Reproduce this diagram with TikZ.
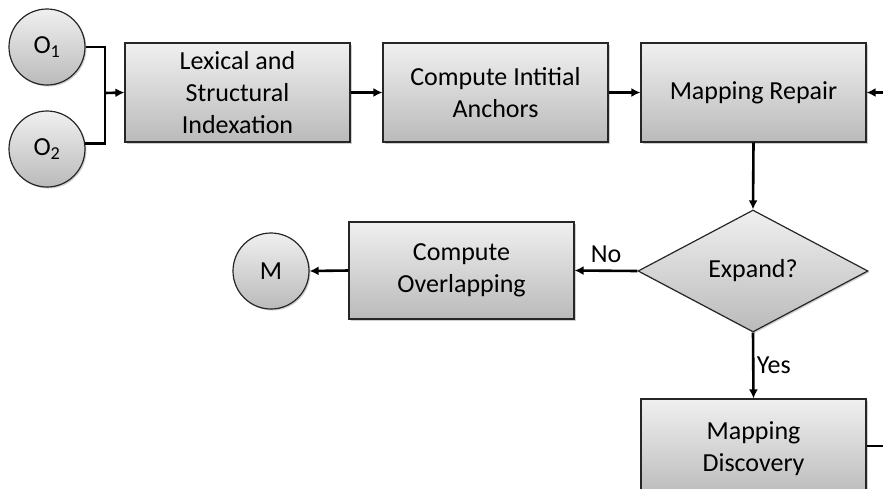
\documentclass[tikz,border=0pt]{standalone}
\usepackage{fontspec}
\setmainfont{Carlito}
\usetikzlibrary{shapes.geometric,arrows.meta,shadows}
\begin{document}
\begin{tikzpicture}[x=1pt,y=-1pt,
  shade/.style={top color=black!6, bottom color=black!27, draw=black!85, line width=1.2pt,
    drop shadow={shadow xshift=1.5pt, shadow yshift=-1.5pt, opacity=0.3, fill=black!60}},
  box/.style={shade, rectangle, minimum width=225pt, minimum height=99pt, inner sep=0pt,
    align=center, font=\fontsize{26}{32}\selectfont},
  onode/.style={shade, circle, minimum size=76pt, inner sep=0pt, font=\fontsize{26}{32}\selectfont},
  decision/.style={shade, diamond, minimum width=230pt, minimum height=122pt, inner sep=0pt,
    font=\fontsize{26}{32}\selectfont},
  conn/.style={line width=2.6pt, black},
  arr/.style={conn, -{Latex[length=9pt,width=9pt]}},
  lbl/.style={font=\fontsize{26}{32}\selectfont}]
\useasboundingbox (0,0) rectangle (883,488);
\fill[white] (0,0) rectangle (883,488);
\clip (0,0) rectangle (883,488);

\node[onode] (o1) at (47,47) {O\textsubscript{1}};
\node[onode] (o2) at (47,149) {O\textsubscript{2}};
\node[box] (b1) at (237.5,92.5) {Lexical and\\Structural\\Indexation};
\node[box] (b2) at (495.5,92.5) {Compute Intitial\\Anchors};
\node[box] (b3) at (753.5,92.5) {Mapping Repair};
\node[decision] (dia) at (753,271) {Expand?};
\node[box, minimum height=97pt] (b5) at (461.5,270.5) {Compute\\Overlapping};
\node[onode] (m) at (271,271) {M};
\node[box] (b4) at (753.5,448.5) {Mapping\\Discovery};

\coordinate (j) at (105,93);
\coordinate (r3) at (883,92.5);
\coordinate (r4) at (883,446);

\draw[conn] (o1.east) -| (j);
\draw[conn] (o2.8) -| (j);
\draw[arr] (j) -- (b1.west);
\draw[arr] (b1.east) -- (b2.west);
\draw[arr] (b2.east) -- (b3.west);
\draw[arr] (r3) -- (b3.east);
\draw[arr] (b3.south) -- (dia.north);
\draw[arr] (dia.west) -- node[lbl, above=3pt] {No} (b5.east);
\draw[arr] (b5.west) -- (m.east);
\draw[arr] (dia.south) -- node[lbl, right=-1pt] {Yes} (b4.north);
\draw[conn] (b4.east |- r4) -- (r4);
\end{tikzpicture}
\end{document}
